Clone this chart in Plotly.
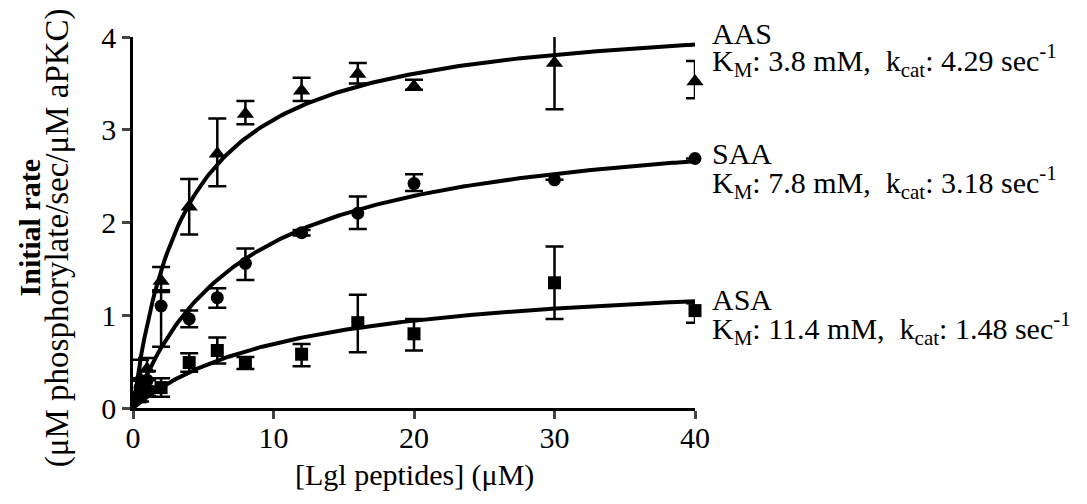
import plotly.graph_objects as go

# Substrate concentrations (uM)
conc = [0.5, 1, 2, 4, 6, 8, 12, 16, 20, 30, 40]

# Series values
aas = [0.32, 0.42, 1.37, 2.17, 2.74, 3.17, 3.42, 3.60, 3.47, 3.72, 3.52]
aas_up = [0.2, 0.12, 0.15, 0.3, 0.38, 0.14, 0.14, 0.12, 0.07, 0.43, 0.22]
aas_dn = [0.2, 0.12, 0.12, 0.3, 0.35, 0.11, 0.11, 0.10, 0.04, 0.50, 0.18]

saa = [0.22, 0.30, 1.10, 0.96, 1.19, 1.56, 1.89, 2.10, 2.42, 2.46, 2.69]
saa_up = [0.1, 0.1, 0.17, 0.09, 0.10, 0.16, 0.03, 0.18, 0.10, 0.0, 0.0]
saa_dn = [0.1, 0.1, 0.44, 0.09, 0.11, 0.18, 0.03, 0.17, 0.08, 0.0, 0.0]

asa = [0.12, 0.18, 0.22, 0.49, 0.62, 0.49, 0.58, 0.92, 0.80, 1.35, 1.05]
asa_up = [0.05, 0.05, 0.10, 0.10, 0.14, 0.06, 0.11, 0.30, 0.16, 0.39, 0.08]
asa_dn = [0.05, 0.05, 0.10, 0.10, 0.14, 0.07, 0.13, 0.32, 0.18, 0.39, 0.13]

# Fit parameters as stated on the chart
names = ["AAS", "SAA", "ASA"]
km = [3.8, 7.8, 11.4]
kcat = [4.29, 3.18, 1.48]
km_txt = ["3.8", "7.8", "11.4"]
kcat_txt = ["4.29", "3.18", "1.48"]

x_ticks = [0, 10, 20, 30, 40]
y_ticks = [0, 1, 2, 3, 4]

FONT = "Liberation Serif, Times New Roman, serif"
FS = 30

fig = go.Figure()

# Michaelis-Menten fit curves from the stated parameters
xs = [i * 0.2 for i in range(0, 201)]
for k, v in zip(km, kcat):
    fig.add_trace(go.Scatter(
        x=xs, y=[v * x / (k + x) for x in xs], mode="lines",
        line=dict(color="black", width=4), showlegend=False,
        hoverinfo="skip", cliponaxis=False))

series = [
    (aas, aas_up, aas_dn, "triangle-up", 15),
    (saa, saa_up, saa_dn, "circle", 13),
    (asa, asa_up, asa_dn, "square", 13),
]
for vals, up, dn, sym, sz in series:
    fig.add_trace(go.Scatter(
        x=conc, y=vals, mode="markers",
        marker=dict(symbol=sym, size=sz, color="black"),
        error_y=dict(type="data", array=up, arrayminus=dn, visible=True,
                     color="black", thickness=2.5, width=9),
        showlegend=False, cliponaxis=False))

fig.update_xaxes(range=[0, 40], tickvals=x_ticks, ticks="outside", ticklen=8,
                 tickwidth=2.5, showline=True, linewidth=2.5, linecolor="black",
                 showgrid=False, zeroline=False, ticklabelstandoff=-7,
                 tickfont=dict(family=FONT, size=FS, color="black"))
fig.update_yaxes(range=[0, 4], tickvals=y_ticks, ticks="outside", ticklen=8,
                 tickwidth=2.5, showline=True, linewidth=2.5, linecolor="black",
                 showgrid=False, zeroline=False,
                 tickfont=dict(family=FONT, size=FS, color="black"))

ann = []
label_y = [(1.01, 0.936), (0.685, 0.607), (0.292, 0.214)]
for n, kt, ct, (y1, y2) in zip(names, km_txt, kcat_txt, label_y):
    ann.append(dict(x=1.026, y=y1, xref="paper", yref="paper", text=n, showarrow=False,
                    xanchor="left", yanchor="middle",
                    font=dict(family=FONT, size=FS, color="black")))
    ann.append(dict(x=1.026, y=y2, xref="paper", yref="paper",
                    text="K<sub>M</sub>: " + kt + " mM,\u00a0 k<sub>cat</sub>: " + ct + " sec<sup>-1</sup>",
                    showarrow=False, xanchor="left", yanchor="middle",
                    font=dict(family=FONT, size=FS, color="black")))

ann.append(dict(x=-0.185, y=0.484, xref="paper", yref="paper", text="<b>Initial rate</b>",
                textangle=-90, showarrow=False, xanchor="center", yanchor="middle",
                font=dict(family=FONT, size=FS, color="black")))
ann.append(dict(x=-0.135, y=0.458, xref="paper", yref="paper",
                text="(\u03bcM phosphorylate/sec/\u03bcM aPKC)",
                textangle=-90, showarrow=False, xanchor="center", yanchor="middle",
                font=dict(family=FONT, size=33, color="black")))
ann.append(dict(x=0.5, y=-0.18, xref="paper", yref="paper", text="[Lgl peptides] (\u03bcM)",
                showarrow=False, xanchor="center", yanchor="middle",
                font=dict(family=FONT, size=FS, color="black")))

# page body adds an 8px offset, so the figure is 8px smaller than the window
fig.update_layout(
    width=1079, height=496,
    margin=dict(l=125, r=392, t=26, b=96),
    paper_bgcolor="white", plot_bgcolor="white",
    annotations=ann,
)

fig.write_html("out.html")
